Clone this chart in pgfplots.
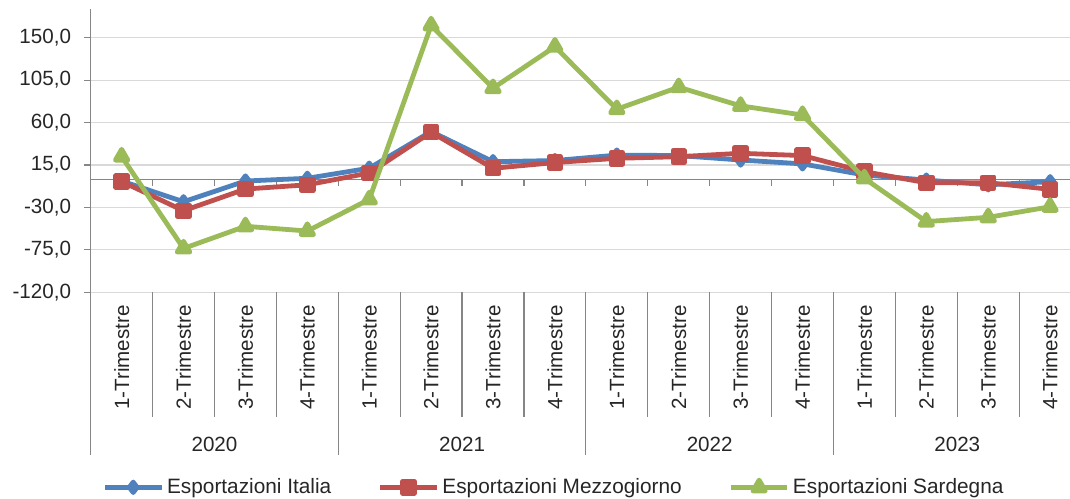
\documentclass[border=0pt]{standalone}
\usepackage{fontspec}
\setmainfont{Liberation Sans}
\usepackage{pgfplots}
\pgfplotsset{compat=1.18}

\definecolor{cIta}{RGB}{79,129,189}
\definecolor{cMez}{RGB}{192,80,77}
\definecolor{cSar}{RGB}{155,187,89}
\definecolor{axgray}{RGB}{134,134,134}
\definecolor{gridgray}{RGB}{217,217,217}
\newcommand{\chartfont}{\fontsize{10.3}{12}\selectfont}
\newcommand{\legfont}{\fontsize{10.4}{12}\selectfont}

\begin{document}
\begin{tikzpicture}
\begin{axis}[
  name=ax,
  scale only axis,
  width=489.6pt,
  height=141.45pt,
  xmin=-0.5, xmax=15.32,
  ymin=-120, ymax=180,
  axis x line=none,
  axis y line*=left,
  y axis line style={axgray, line width=0.6pt},
  ytick={-120,-75,-30,15,60,105,150},
  ymajorgrids,
  grid style={gridgray, line width=0.6pt},
  tick align=outside,
  major tick length=3.35pt,
  ytick style={axgray, line width=0.6pt},
  yticklabel style={font=\chartfont, inner sep=0pt, xshift=-6.3pt, text=black!85},
  /pgf/number format/.cd, fixed, fixed zerofill, precision=1, use comma, assume math mode=true,
  /pgfplots/.cd,
  clip mode=individual,
  every axis plot/.append style={line width=2.4pt, line join=round},
  legend image code/.code={\draw[#1, mark repeat=2, mark phase=2] plot coordinates {(0pt,0pt) (14.15pt,0pt) (28.3pt,0pt)};},
  legend style={at={(0,0)}, anchor=west, xshift=5.7pt, yshift=-97.5pt,
    draw=none, fill=none, inner sep=0pt, font=\legfont, text=black!85,
    legend columns=3, nodes={inner sep=0pt},
    /tikz/every odd column/.append style={column sep=1.6pt},
    /tikz/every even column/.append style={column sep=23.3pt}},
]
% zero line with its ticks, category separators
\draw[axgray, line width=0.6pt] (axis cs:-0.5,0) -- (axis cs:15.32,0);
\pgfplotsinvokeforeach{0.5,1.5,...,14.5}{
  \draw[axgray, line width=0.6pt] (axis cs:#1,0) -- ([yshift=-3.5pt]axis cs:#1,0);
  \draw[axgray, line width=0.6pt] (axis cs:#1,-120) -- ([yshift=-62.2pt]axis cs:#1,-120);
}
\pgfplotsinvokeforeach{-0.5,3.5,7.5,11.5}{
  \draw[axgray, line width=0.6pt] (axis cs:#1,-120) -- ([yshift=-81.35pt]axis cs:#1,-120);
}
\pgfplotsinvokeforeach{0,...,15}{
  \node[rotate=90, anchor=east, inner sep=0pt, font=\chartfont, text=black!85]
    at ([yshift=-6.35pt]axis cs:#1,-120) {\pgfmathparse{int(mod(#1,4)+1)}\pgfmathresult-Trimestre};
}
\node[font=\chartfont, text=black!85] at ([yshift=-75.85pt]axis cs:1.5,-120) {2020};
\node[font=\chartfont, text=black!85] at ([yshift=-75.85pt]axis cs:5.5,-120) {2021};
\node[font=\chartfont, text=black!85] at ([yshift=-75.85pt]axis cs:9.5,-120) {2022};
\node[font=\chartfont, text=black!85] at ([yshift=-75.85pt]axis cs:13.5,-120) {2023};

\addplot[color=cIta, mark=diamond*, mark size=2.6pt, mark options={solid}] coordinates {
 (0,-2) (1,-24) (2,-2) (3,0.9) (4,11.6) (5,50.5) (6,18.5) (7,19.7)
 (8,25.5) (9,25) (10,20.3) (11,16.2) (12,4.4) (13,-1) (14,-6) (15,-2.7)};
\addlegendentry{Esportazioni Italia}
\addplot[color=cMez, mark=square*, mark size=2.9pt, mark options={solid}] coordinates {
 (0,-2.5) (1,-33.5) (2,-10.5) (3,-6) (4,6.5) (5,49.8) (6,11.5) (7,17.6)
 (8,22.1) (9,23.8) (10,27.4) (11,25) (12,7.9) (13,-3.8) (14,-3.8) (15,-10.8)};
\addlegendentry{Esportazioni Mezzogiorno}
\addplot[color=cSar, mark=triangle*, mark size=3.6pt, mark options={solid}] coordinates {
 (0,24) (1,-73.5) (2,-50) (3,-55) (4,-21.5) (5,163) (6,96.5) (7,140.5)
 (8,74.2) (9,97.5) (10,77.7) (11,68) (12,0.8) (13,-45) (14,-40.5) (15,-29.3)};
\addlegendentry{Esportazioni Sardegna}
\end{axis}
\pgfresetboundingbox
\path[use as bounding box] ([shift={(-45.35pt,146.15pt)}]ax.south west) rectangle ([shift={(489.65pt,-102.85pt)}]ax.south west);
\end{tikzpicture}
\end{document}
